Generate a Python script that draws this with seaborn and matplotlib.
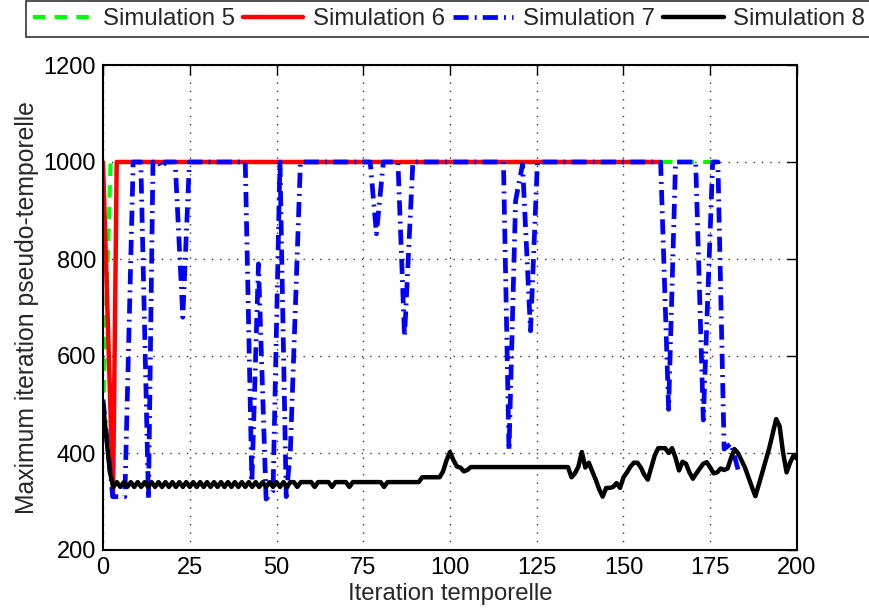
import numpy as np
import pandas as pd
import matplotlib
matplotlib.use("Agg")
import matplotlib.pyplot as plt
import seaborn as sns

# ---------------- data ----------------
series_names = ["Simulation 5", "Simulation 6", "Simulation 7", "Simulation 8"]

x5 = [0, 2.2, 179]
y5 = [480, 1000, 1000]

x6 = [0, 2.9, 3.95, 160]
y6 = [1000, 310, 1000, 1000]

x7 = [0, 2.8, 6.3, 8.7, 10.9, 13.1, 14.4, 16, 16.9, 18, 20.8, 23, 24.9,
      41, 42.9, 44.8, 47, 49, 51, 52.8, 54, 56.9,
      77, 78.8, 80.8, 85, 86.9, 89.3,
      115.4, 117, 118.9, 120.9, 123.2, 125.2,
      160.7, 163, 165, 170.8, 173, 175.7, 177.2, 179, 181, 183]
y7 = [510, 310, 310, 1000, 1000, 305, 1000, 1000, 988, 1000, 1000, 680, 1000,
      1000, 340, 790, 305, 322, 1000, 310, 405, 1000,
      1000, 852, 1000, 1000, 640, 1000,
      1000, 405, 920, 995, 652, 1000,
      1000, 490, 1000, 1000, 468, 1000, 1000, 408, 420, 366]

x8 = list(range(0, 201))
y8 = [500, 430, 360, 330, 340, 330, 340, 330, 340, 330,   # 0-9
      340, 330, 340, 330, 340, 330, 340, 330, 340, 330,   # 10-19
      340, 330, 340, 330, 340, 330, 340, 330, 340, 330,   # 20-29
      340, 330, 340, 330, 340, 330, 340, 330, 340, 330,   # 30-39
      340, 330, 340, 330, 340, 330, 340, 330, 340, 330,   # 40-49
      340, 330, 340, 330, 340, 340, 330, 340, 340, 340,   # 50-59
      340, 330, 340, 340, 340, 340, 330, 340, 340, 340,   # 60-69
      340, 330, 340, 340, 340, 340, 340, 340, 340, 340,   # 70-79
      340, 330, 340, 340, 340, 340, 340, 340, 340, 340,   # 80-89
      340, 340, 350, 350, 350, 350, 350, 350, 362, 385,   # 90-99
      402, 385, 372, 370, 362, 365, 371, 371, 371, 371,   # 100-109
      371, 371, 371, 371, 371, 371, 371, 371, 371, 371,   # 110-119
      371, 371, 371, 371, 371, 371, 371, 371, 371, 371,   # 120-129
      371, 371, 371, 371, 371, 350, 358, 372, 402, 370,   # 130-139
      380, 362, 345, 325, 310, 328, 328, 330, 338, 328,   # 140-149
      350, 360, 372, 380, 380, 370, 355, 345, 370, 395,   # 150-159
      410, 410, 410, 400, 410, 390, 364, 382, 378, 360,   # 160-169
      347, 358, 368, 378, 381, 370, 358, 360, 368, 365,   # 170-179
      368, 390, 408, 400, 385, 370, 350, 330, 311, 335,   # 180-189
      360, 385, 410, 440, 470, 455, 400, 360, 380, 395,   # 190-199
      388]                                                # 200

x_ticks = [0, 25, 50, 75, 100, 125, 150, 175, 200]
y_ticks = [200, 400, 600, 800, 1000, 1200]
x_label = "Iteration temporelle"
y_label = "Maximum iteration pseudo-temporelle"

# ---------------- plot ----------------
sns.set_theme(style="white")
plt.rcParams["font.family"] = ["Liberation Sans", "DejaVu Sans"]
plt.rcParams["font.size"] = 17

fig = plt.figure(figsize=(8.69, 6.10), dpi=100)
ax = fig.add_axes([103 / 869, 1 - 550 / 610, (797 - 103) / 869, (550 - 65) / 610])

frames = [
    pd.DataFrame({"x": x5, "y": y5}),
    pd.DataFrame({"x": x6, "y": y6}),
    pd.DataFrame({"x": x7, "y": y7}),
    pd.DataFrame({"x": x8, "y": y8}),
]
styles = [
    dict(color="#00ff00", linestyle=(0, (3.0, 2.2)), linewidth=3.0),
    dict(color="#ff0000", linestyle="-", linewidth=3.2),
    dict(color="#0000ff", linestyle=(0, (3.2, 1.3, 0.4, 1.3)), linewidth=3.4),
    dict(color="#000000", linestyle="-", linewidth=3.2),
]
for df, name, st in zip(frames, series_names, styles):
    sns.lineplot(data=df, x="x", y="y", ax=ax, label=name, estimator=None,
                 sort=False, **st)

ax.set_xlim(0, 200)
ax.set_ylim(200, 1200)
ax.set_xticks(x_ticks)
ax.set_yticks(y_ticks)
ax.set_xlabel(x_label, fontsize=17.2, labelpad=3)
ax.set_ylabel(y_label, fontsize=17.8, labelpad=3)
ax.tick_params(axis="both", which="major", direction="in", length=7, width=1,
               top=True, right=True, labelsize=17, colors="black", pad=5)
for sp in ax.spines.values():
    sp.set_visible(True)
    sp.set_color("black")
    sp.set_linewidth(1.5)
ax.grid(True, which="major", color="#333333", linestyle=(0, (1, 5)), linewidth=1.0)

ax.get_legend().remove()
handles, labels = ax.get_legend_handles_labels()
leg = fig.legend(handles, labels, loc="upper left", ncol=4,
                 bbox_to_anchor=(26 / 869, 1 - 1 / 610),
                 frameon=True, fancybox=False, edgecolor="black",
                 fontsize=17.3, handlelength=2.5, handletextpad=0.4,
                 columnspacing=0.35, borderpad=0.3, borderaxespad=0.0)
leg.get_frame().set_linewidth(1.2)

fig.savefig("out.png", dpi=100)
